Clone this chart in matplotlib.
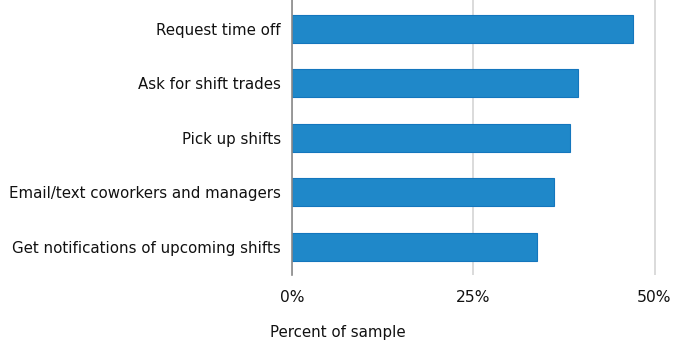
from matplotlib import pyplot as plt
from matplotlib.ticker import FuncFormatter

plt.rcParams["font.family"] = ["DejaVu Sans"]
plt.rcParams["font.size"] = 10

# 数据
categories = ["Request time off", "Ask for shift trades", "Pick up shifts",
              "Email/text coworkers and managers", "Get notifications of upcoming shifts"]
percents = [47.1, 39.5, 38.3, 36.1, 33.8]
xticks = [0, 25, 50]

fig = plt.figure(figsize=(6.75, 3.6), dpi=100)
ax = fig.add_axes([292 / 675, 1 - 275 / 360, 377 / 675, 275 / 360])

ax.barh(range(len(categories)), percents, height=0.51,
        color="#1f88c9", edgecolor="#1476bd", linewidth=0.8, zorder=3)

ax.set_yticks(range(len(categories)))
ax.set_yticklabels(categories)
ax.set_ylim(4.52, -0.53)
ax.set_xlim(0, 52)
ax.set_xticks(xticks)
ax.xaxis.set_major_formatter(FuncFormatter(lambda v, p: f"{v:.0f}%"))
ax.tick_params(axis="both", length=0, labelsize=10.8, colors="#111111")
ax.tick_params(axis="y", pad=8)
ax.tick_params(axis="x", labelsize=11.2, pad=11)

ax.grid(axis="x", color="#d4d4d4", linewidth=1.2, zorder=0)
for s in ["top", "right", "bottom"]:
    ax.spines[s].set_visible(False)
ax.spines["left"].set_color("#8a8a8a")
ax.spines["left"].set_linewidth(1.2)
ax.spines["left"].set_zorder(4)

fig.text(338 / 675, 1 - 333 / 360, "Percent of sample", ha="center", va="center",
         fontsize=10.8, color="#111111")

plt.savefig("out.png", dpi=100)
